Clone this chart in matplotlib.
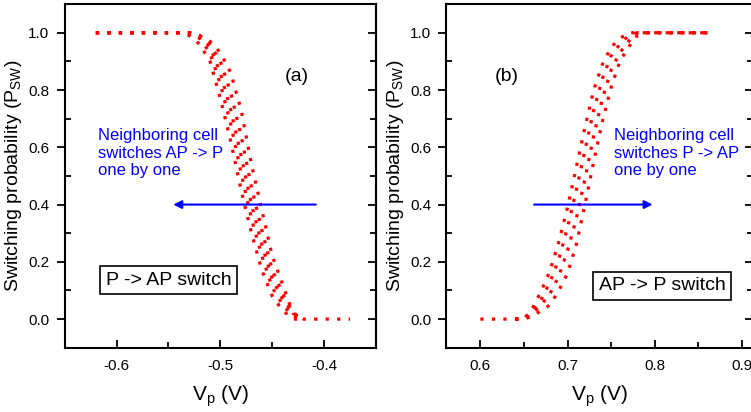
import matplotlib
matplotlib.use("Agg")
import matplotlib.pyplot as plt
import numpy as np
from matplotlib.ticker import MultipleLocator, FormatStrFormatter

plt.rcParams['font.family'] = ['Liberation Sans', 'DejaVu Sans']
plt.rcParams['mathtext.fontset'] = 'custom'
plt.rcParams['mathtext.rm'] = 'Liberation Sans'
plt.rcParams['mathtext.it'] = 'Liberation Sans:italic'

# panel (a): P -> AP switch, voltage grid shared by the curves
va = [-0.62, -0.55, -0.54, -0.53, -0.52, -0.51, -0.50, -0.49, -0.48,
      -0.47, -0.46, -0.45, -0.44, -0.43, -0.42, -0.375]
pa = [
    [1, 1, 1, 0.99, 0.96, 0.90, 0.77, 0.62, 0.45, 0.30, 0.17, 0.08, 0.03, 0.0, 0, np.nan],
    [1, 1, 1, 1, 0.98, 0.93, 0.82, 0.68, 0.51, 0.35, 0.22, 0.11, 0.05, 0.01, 0, np.nan],
    [1, 1, 1, 1, 0.99, 0.95, 0.86, 0.73, 0.57, 0.40, 0.26, 0.14, 0.07, 0.02, 0, np.nan],
    [1, 1, 1, 1, 0.99, 0.96, 0.90, 0.79, 0.64, 0.46, 0.31, 0.17, 0.09, 0.02, 0, np.nan],
    [1, 1, 1, 1, 0.99, 0.97, 0.93, 0.86, 0.73, 0.54, 0.38, 0.22, 0.12, 0.02, 0, 0],
]

# panel (b): AP -> P switch
vb = [0.60, 0.64, 0.65, 0.66, 0.67, 0.68, 0.69, 0.70, 0.71, 0.72, 0.73,
      0.74, 0.75, 0.76, 0.77, 0.78, 0.79, 0.865]
pb = [
    [0, 0, 0.0, 0.04, 0.10, 0.17, 0.27, 0.39, 0.53, 0.67, 0.80, 0.89, 0.95, 0.98, 1, 1, 1, 1],
    [np.nan, 0, 0, 0.03, 0.07, 0.13, 0.21, 0.32, 0.45, 0.59, 0.73, 0.84, 0.92, 0.96, 0.99, 1, 1, 1],
    [np.nan, 0, 0, 0.02, 0.05, 0.09, 0.15, 0.24, 0.35, 0.49, 0.64, 0.77, 0.87, 0.93, 0.97, 1, 1, 1],
    [np.nan, 0, 0, 0.01, 0.03, 0.05, 0.10, 0.16, 0.26, 0.40, 0.55, 0.69, 0.81, 0.90, 0.95, 0.99, 1, 1],
]

red = '#ff0000'
blue = '#0000ff'
dots = (0, (1, 2.6))


def style_axes(ax):
    ax.set_ylim(-0.1, 1.1)
    ax.xaxis.set_major_locator(MultipleLocator(0.1))
    ax.xaxis.set_minor_locator(MultipleLocator(0.05))
    ax.yaxis.set_major_locator(MultipleLocator(0.2))
    ax.yaxis.set_minor_locator(MultipleLocator(0.1))
    ax.xaxis.set_major_formatter(FormatStrFormatter('%.1f'))
    ax.yaxis.set_major_formatter(FormatStrFormatter('%.1f'))
    ax.tick_params(which='both', top=False, right=False,
                   width=1.3, labelsize=11, pad=5)
    ax.tick_params(axis='x', which='both', direction='in', pad=8)
    ax.tick_params(axis='y', which='major', direction='out')
    ax.tick_params(axis='y', which='minor', direction='in')
    ax.tick_params(which='major', length=6)
    ax.tick_params(which='minor', length=4)
    for s in ax.spines.values():
        s.set_linewidth(1.5)
    # mirrored ticks on the right side, pointing in
    sec = ax.secondary_yaxis('right')
    sec.yaxis.set_major_locator(MultipleLocator(0.2))
    sec.yaxis.set_minor_locator(MultipleLocator(0.1))
    sec.tick_params(which='both', direction='in', labelright=False, width=1.3)
    sec.tick_params(which='major', length=6)
    sec.tick_params(which='minor', length=4)
    sec.spines['right'].set_linewidth(1.5)
    ax.set_ylabel(r'Switching probability (P$_{\mathrm{SW}}$)', fontsize=14,
                  labelpad=3)
    ax.set_xlabel(r'V$_{\mathrm{p}}$ (V)', fontsize=15, labelpad=8)


fig = plt.figure(figsize=(7.51, 4.12), dpi=100)
ax1 = fig.add_axes([0.0862, 0.156, 0.4145, 0.834])
ax2 = fig.add_axes([0.5944, 0.156, 0.4085, 0.834])

for p in pa:
    ax1.plot(va, p, color=red, lw=2.3, linestyle=dots)
ax1.set_xlim(-0.65, -0.35)
style_axes(ax1)
ax1.text(-0.426, 0.847, '(a)', fontsize=14, ha='center', va='center')
ax1.text(-0.6176, 0.58, 'Neighboring cell\nswitches AP -> P\none by one',
         color=blue, fontsize=12, ha='left', va='center', linespacing=1.2)
ax1.annotate('', xy=(-0.5454, 0.4), xytext=(-0.408, 0.4),
             arrowprops=dict(arrowstyle='-|>', color=blue, lw=1.5,
                             mutation_scale=12, shrinkA=0, shrinkB=0))
ax1.text(-0.55, 0.136, 'P -> AP switch', fontsize=14, ha='center', va='center',
         bbox=dict(boxstyle='square,pad=0.3', fc='white', ec='black', lw=1.2))

for p in pb:
    ax2.plot(vb, p, color=red, lw=2.3, linestyle=dots)
ax2.set_xlim(0.561, 0.913)
style_axes(ax2)
ax2.text(0.630, 0.847, '(b)', fontsize=14, ha='center', va='center')
ax2.text(0.7528, 0.58, 'Neighboring cell\nswitches P -> AP\none by one',
         color=blue, fontsize=12, ha='left', va='center', linespacing=1.2)
ax2.annotate('', xy=(0.7976, 0.4), xytext=(0.6616, 0.4),
             arrowprops=dict(arrowstyle='-|>', color=blue, lw=1.5,
                             mutation_scale=12, shrinkA=0, shrinkB=0))
ax2.text(0.8084, 0.116, 'AP -> P switch', fontsize=14, ha='center', va='center',
         bbox=dict(boxstyle='square,pad=0.3', fc='white', ec='black', lw=1.2))

fig.savefig('out.png', dpi=100)
